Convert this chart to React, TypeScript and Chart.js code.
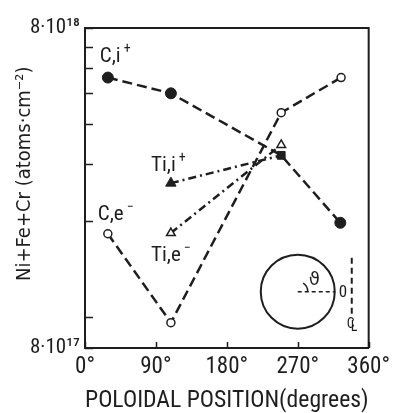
import React, { useEffect, useRef } from 'react';
import { Chart, registerables } from 'chart.js';
Chart.register(...registerables);

// ---- data ----
const xTickValues = [0, 90, 180, 270, 360];
const xTickLabels = ['0°', '90°', '180°', '270°', '360°'];
const yTickValues = [8e17, 1e18, 2e18, 3e18, 4e18, 5e18, 6e18, 7e18, 8e18];
const yTickLabels = ['8·10¹⁷', '', '', '', '', '', '', '', '8·10¹⁸'];

const cIonPositions = [29, 109, 249, 324];
const cIonValues = [5.6e18, 5.0e18, 3.2e18, 1.97e18];
const cElecPositions = [29, 109, 249, 325];
const cElecValues = [1.82e18, 9.6e17, 4.35e18, 5.6e18];
const tiPositions = [109, 249];
const tiIonValues = [2.62e18, 3.2e18];
const tiElecValues = [1.83e18, 3.45e18];

const seriesBase = ['C,i', 'C,e', 'Ti,i', 'Ti,e'];
const seriesSup = ['+', '−', '+', '−'];
const labelAnchorX = [18.75, 16.25, 83.75, 83.75];
const labelAnchorY = [6.49e18, 2.08e18, 2.96e18, 1.55e18];

const xTitle = 'POLOIDAL POSITION(degrees)';
const yTitle = 'Ni+Fe+Cr (atoms·cm⁻²)';

const INK = '#1e1e1e';
const RC = "'Roboto Condensed', 'DejaVu Sans Condensed', sans-serif";
const DC = "'DejaVu Sans Condensed', 'Roboto Condensed', sans-serif";

const pts = (xs: number[], ys: number[]) => xs.map((x, i) => ({ x, y: ys[i] }));

const decorPlugin = {
  id: 'decor',
  afterDraw(chart: any) {
    const { ctx, chartArea: a, scales } = chart;
    const x = scales.x, y = scales.y;
    ctx.save();
    ctx.strokeStyle = INK;
    ctx.lineWidth = 2;
    ctx.beginPath();
    ctx.moveTo(a.left, a.top);
    ctx.lineTo(a.right, a.top);
    ctx.lineTo(a.right, a.bottom);
    ctx.stroke();
    ctx.lineWidth = 1.5;
    ctx.beginPath();
    for (const v of yTickValues) {
      const py = Math.round(y.getPixelForValue(v)) + 0.5;
      ctx.moveTo(a.left, py);
      ctx.lineTo(a.left + 8, py);
    }
    for (const v of xTickValues) {
      const px = Math.round(x.getPixelForValue(v)) + 0.5;
      ctx.moveTo(px, a.bottom);
      ctx.lineTo(px, a.bottom - 6);
    }
    ctx.stroke();

    // series labels
    ctx.fillStyle = INK;
    ctx.textBaseline = 'middle';
    ctx.textAlign = 'left';
    for (let i = 0; i < seriesBase.length; i++) {
      const lx = x.getPixelForValue(labelAnchorX[i]);
      const ly = y.getPixelForValue(labelAnchorY[i]);
      ctx.font = `21px ${RC}`;
      ctx.fillText(seriesBase[i], lx, ly);
      const w = ctx.measureText(seriesBase[i]).width;
      ctx.font = `14px ${RC}`;
      ctx.fillText(seriesSup[i], lx + w + 3, ly - 8);
    }

    // inset sketch
    const cx = x.getPixelForValue(270);
    const cy = y.getPixelForValue(1.2e18);
    const r = 37;
    ctx.lineWidth = 2;
    ctx.beginPath();
    ctx.arc(cx, cy, r, 0, Math.PI * 2);
    ctx.stroke();
    ctx.lineWidth = 1.5;
    ctx.setLineDash([4, 3]);
    ctx.beginPath();
    ctx.moveTo(cx, cy);
    ctx.lineTo(cx + r, cy);
    ctx.stroke();
    ctx.lineWidth = 2;
    ctx.setLineDash([6, 4]);
    ctx.beginPath();
    ctx.moveTo(cx + r + 17, cy - 34);
    ctx.lineTo(cx + r + 17, cy + 26);
    ctx.stroke();
    ctx.setLineDash([]);
    ctx.lineWidth = 1.5;
    ctx.beginPath();
    ctx.arc(cx, cy, 10, -1.0, 0);
    ctx.stroke();
    ctx.font = `18px 'DejaVu Sans'`;
    ctx.textAlign = 'left';
    ctx.fillText('ϑ', cx + 11, cy - 11);
    ctx.font = `17px ${RC}`;
    ctx.fillText('0', cx + r + 4, cy + 1);
    ctx.font = `14px ${RC}`;
    ctx.fillText('C', cx + r + 12, cy + 33);
    ctx.fillText('L', cx + r + 16, cy + 36);
    ctx.restore();
  },
};

export default function App() {
  const ref = useRef<HTMLCanvasElement>(null);
  useEffect(() => {
    if (!ref.current) return;
    const dashed = [10, 5];
    const dashDot = [8, 4, 2, 4];
    const chart = new Chart(ref.current, {
      type: 'line',
      data: {
        datasets: [
          {
            label: 'C,i+',
            data: pts(cIonPositions, cIonValues),
            borderColor: INK,
            borderWidth: 2.5,
            borderDash: dashed,
            pointStyle: ['circle', 'circle', 'rect', 'circle'],
            pointRadius: 5.5,
            pointBackgroundColor: INK,
            pointBorderColor: INK,
            pointBorderWidth: 1,
          },
          {
            label: 'C,e-',
            data: pts(cElecPositions, cElecValues),
            borderColor: INK,
            borderWidth: 2.5,
            borderDash: dashed,
            pointStyle: 'circle',
            pointRadius: 4,
            pointBackgroundColor: '#ffffff',
            pointBorderColor: INK,
            pointBorderWidth: 1.5,
          },
          {
            label: 'Ti,i+',
            data: pts(tiPositions, tiIonValues),
            borderColor: INK,
            borderWidth: 2.5,
            borderDash: dashDot,
            pointStyle: 'triangle',
            pointRadius: [6, 0],
            pointBackgroundColor: INK,
            pointBorderColor: INK,
            pointBorderWidth: 1,
          },
          {
            label: 'Ti,e-',
            data: pts(tiPositions, tiElecValues),
            borderColor: INK,
            borderWidth: 2.5,
            borderDash: dashDot,
            pointStyle: 'triangle',
            pointRadius: 5,
            pointBackgroundColor: '#ffffff',
            pointBorderColor: INK,
            pointBorderWidth: 1.5,
          },
        ],
      },
      options: {
        responsive: false,
        animation: false,
        devicePixelRatio: 1,
        layout: { padding: { left: 0, right: 25, top: 28, bottom: 0 } },
        plugins: { legend: { display: false }, tooltip: { enabled: false } },
        scales: {
          x: {
            type: 'linear',
            min: 0,
            max: 360,
            afterBuildTicks: (s: any) => {
              s.ticks = xTickValues.map((v) => ({ value: v }));
            },
            afterFit: (s: any) => {
              s.height = 65;
            },
            ticks: {
              autoSkip: false,
              maxRotation: 0,
              padding: 8,
              color: INK,
              font: { family: RC, size: 23, lineHeight: 1 },
              callback: (_v: any, i: number) => xTickLabels[i],
            },
            grid: { display: false, drawTicks: false },
            border: { display: true, color: INK, width: 2 },
            title: {
              display: true,
              text: xTitle,
              color: INK,
              font: { family: RC, size: 24, lineHeight: 1 },
              padding: { top: 0, bottom: 0 },
            },
          },
          y: {
            type: 'logarithmic',
            min: 8e17,
            max: 8e18,
            afterBuildTicks: (s: any) => {
              s.ticks = yTickValues.map((v) => ({ value: v }));
            },
            afterFit: (s: any) => {
              s.width = 85;
            },
            ticks: {
              autoSkip: false,
              padding: 5,
              color: INK,
              font: { family: RC, size: 21, lineHeight: 1 },
              callback: (_v: any, i: number) => yTickLabels[i],
            },
            grid: { display: false, drawTicks: false },
            border: { display: true, color: INK, width: 2 },
            title: {
              display: true,
              text: '\u00a0\u00a0\u00a0\u00a0\u00a0' + yTitle,
              color: INK,
              font: { family: DC, size: 20, lineHeight: 1 },
              padding: { top: 15, bottom: 0 },
            },
          },
        },
      },
      plugins: [decorPlugin],
    } as any);
    return () => chart.destroy();
  }, []);
  return (
    <div style={{ position: 'absolute', left: 0, top: 0, width: 398, height: 413, background: '#fff' }}>
      <canvas ref={ref} width={398} height={413} style={{ display: 'block' }} />
    </div>
  );
}
